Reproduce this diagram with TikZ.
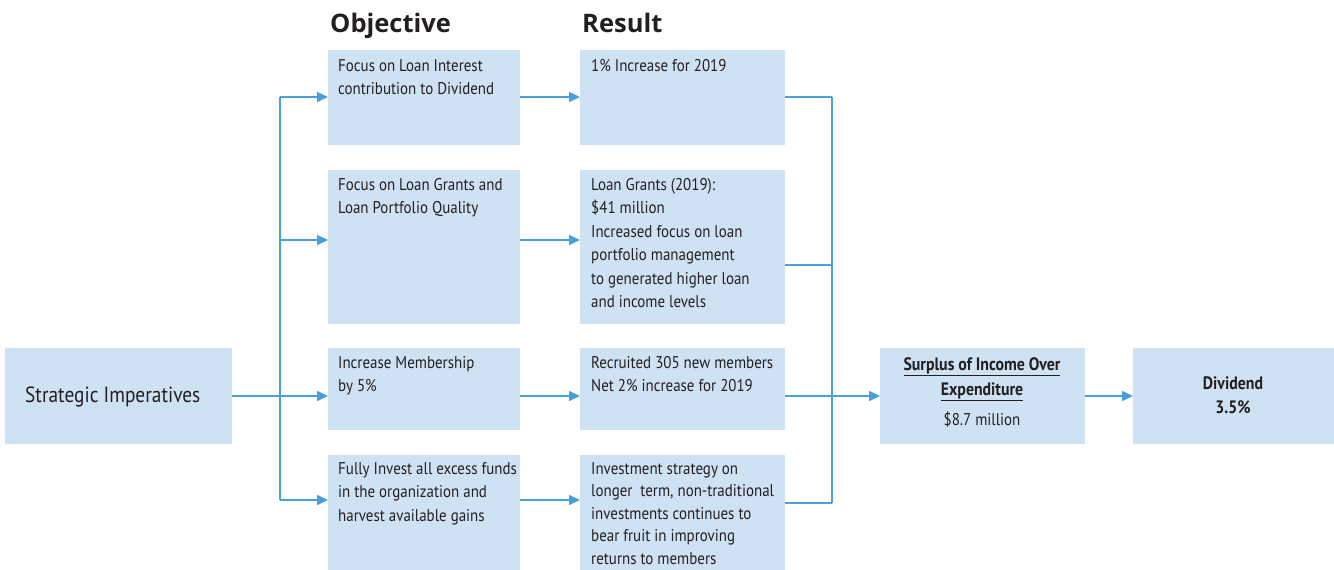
\documentclass[tikz,border=0pt]{standalone}
\usepackage{fontspec}
\setmainfont{PT Sans}[FakeStretch=0.88]
\newfontfamily\headfont{Open Sans}
\usetikzlibrary{arrows.meta}
\definecolor{boxfill}{HTML}{CFE2F4}
\definecolor{linec}{HTML}{4A9EDB}
\definecolor{txtc}{HTML}{231F20}
\begin{document}
\begin{tikzpicture}[x=1pt,y=-1pt,
  box/.style={fill=boxfill,draw=none,anchor=north west,inner sep=0pt},
  txt/.style={anchor=north west,align=left,inner sep=0pt,text=txtc,font=\fontsize{17}{23.5}\selectfont},
  ctxt/.style={align=center,inner sep=0pt,text=txtc,font=\fontsize{17}{24}\selectfont},
  head/.style={anchor=base west,inner sep=0pt,text=txtc,font=\headfont\bfseries\fontsize{25.5}{28}\selectfont},
  conn/.style={draw=linec,line width=1.6pt},
  arr/.style={conn,-{Triangle[length=11pt,width=10pt]}}]
\useasboundingbox (0,0) rectangle (1334,570);
% headers
\node[head] (hobj) at (330,32) {Objective};
\node[head] (hres) at (582,32) {Result};
% strategic
\node[box,minimum width=227pt,minimum height=96pt] (si) at (5,348) {};
\node[inner sep=0pt,text=txtc,font=\fontsize{22}{24}\selectfont,anchor=west] (sit) at (25,397) {Strategic Imperatives};
% objective boxes
\node[box,minimum width=192pt,minimum height=95pt] (o1) at (328,50) {};
\node[box,minimum width=192pt,minimum height=154pt] (o2) at (328,170) {};
\node[box,minimum width=192pt,minimum height=82pt] (o3) at (328,348) {};
\node[box,minimum width=192pt,minimum height=115pt] (o4) at (328,455) {};
\node[txt] (o1t) at (338,59) {Focus on Loan Interest\\contribution to Dividend};
\node[txt] (o2t) at (338,178) {Focus on Loan Grants and\\Loan Portfolio Quality};
\node[txt] (o3t) at (338,356) {Increase Membership\\by 5\%};
\node[txt] (o4t) at (338,462) {Fully Invest all excess funds\\in the organization and\\harvest available gains};
% result boxes
\node[box,minimum width=205pt,minimum height=95pt] (r1) at (580,50) {};
\node[box,minimum width=205pt,minimum height=154pt] (r2) at (580,170) {};
\node[box,minimum width=205pt,minimum height=82pt] (r3) at (580,348) {};
\node[box,minimum width=205pt,minimum height=115pt] (r4) at (580,455) {};
\node[txt] (r1t) at (591,59) {1\% Increase for 2019};
\node[txt] (r2t) at (591,178) {Loan Grants (2019):\\\$41 million\\Increased focus on loan\\portfolio management\\to generated higher loan\\and income levels};
\node[txt] (r3t) at (591,356) {Recruited 305 new members\\Net 2\% increase for 2019};
\node[txt,font=\fontsize{17}{22.5}\selectfont] (r4t) at (591,462) {Investment strategy on\\longer\ \ term, non-traditional\\investments continues to\\bear fruit in improving\\returns to members};
% surplus and dividend
\node[box,minimum width=205pt,minimum height=96pt] (sp) at (880,348) {};
\node[box,minimum width=201pt,minimum height=96pt] (dv) at (1133,348) {};
\node[ctxt,anchor=north] (spt) at (982,357) {\fontsize{18}{24}\selectfont\bfseries\underline{Surplus of Income Over}\\[1pt]\fontsize{18}{24}\selectfont\bfseries\underline{Expenditure}\\[6pt]\$8.7 million};
\node[ctxt,anchor=north] (dvt) at (1233,376) {\fontsize{18}{24}\selectfont\bfseries Dividend\\\fontsize{18}{24}\selectfont\bfseries 3.5\%};
% left connectors
\coordinate (j1) at (280,97);
\coordinate (j2) at (280,240);
\coordinate (j3) at (280,396);
\coordinate (j4) at (280,500);
\draw[conn] (j1) -- (j4);
\draw[arr] (j1) -- (o1.west |- j1);
\draw[arr] (j2) -- (o2.west |- j2);
\draw[arr] (si.east |- j3) -- (o3.west |- j3);
\draw[arr] (j4) -- (o4.west |- j4);
% objective to result
\draw[arr] (o1.east |- j1) -- (r1.west |- j1);
\draw[arr] (o2.east |- j2) -- (r2.west |- j2);
\draw[arr] (o3.east |- j3) -- (r3.west |- j3);
\draw[arr] (o4.east |- j4) -- (r4.west |- j4);
% right collectors
\coordinate (k1) at (832,97);
\coordinate (k2) at (832,265);
\coordinate (k3) at (832,396);
\coordinate (k4) at (832,503);
\draw[conn] (k1) -- (k4);
\draw[conn] (r1.east |- k1) -- (k1);
\draw[conn] (r2.east |- k2) -- (k2);
\draw[conn] (r4.east |- k4) -- (k4);
\draw[arr] (r3.east |- k3) -- (sp.west |- k3);
\draw[arr] (sp.east |- k3) -- (dv.west |- k3);
\end{tikzpicture}
\end{document}
